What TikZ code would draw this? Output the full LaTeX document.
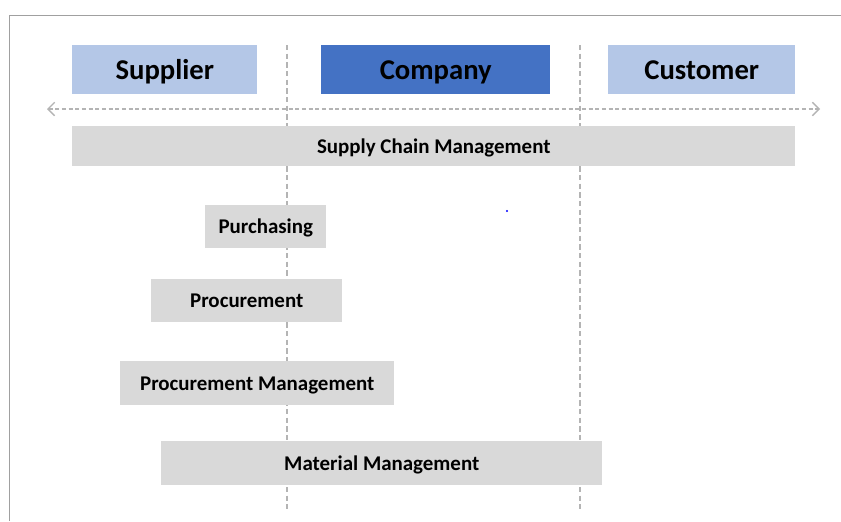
\documentclass[tikz,border=0pt]{standalone}
\usepackage{fontspec}
\setmainfont{Carlito}
\usetikzlibrary{arrows.meta}
\definecolor{lightblue}{HTML}{B4C7E7}
\definecolor{darkblue}{HTML}{4472C4}
\definecolor{bargray}{HTML}{D9D9D9}
\definecolor{linegray}{HTML}{B4B4B4}
\definecolor{framegray}{HTML}{A0A0A0}
\begin{document}
\begin{tikzpicture}[x=0.75pt,y=-0.75pt,
  hdr/.style={font=\fontsize{21.5}{24}\selectfont\bfseries, inner sep=0pt, text height=17pt, text depth=2.3pt, anchor=north west},
  bar/.style={fill=bargray, font=\fontsize{15.7}{18}\selectfont\bfseries, inner sep=0pt, text height=11.4pt, text depth=1pt, anchor=north west},
  vline/.style={draw=linegray, line width=1pt, dash pattern=on 4pt off 2.5pt},
  harrow/.style={draw=linegray, line width=1pt, dash pattern=on 3pt off 2pt, {Straight Barb[length=5pt,width=10pt]}-{Straight Barb[length=5pt,width=10pt]}}
]
\useasboundingbox (0,0) rectangle (841,521);
\fill[white] (0,0) rectangle (841,521);
% frame
\draw[framegray, line width=1.4pt] (9.5,521) -- (9.5,15.5) -- (841,15.5);
% vertical dashed lines
\coordinate (v1t) at (287,45);
\coordinate (v1b) at (287,509);
\coordinate (v2t) at (580,45);
\coordinate (v2b) at (580,509);
\draw[vline] (v1t) -- (v1b);
\draw[vline] (v2t) -- (v2b);
% horizontal arrow
\coordinate (al) at (47,109);
\coordinate (ar) at (820,109);
\draw[harrow] (al) -- (ar);
% headers
\node[hdr, fill=lightblue, minimum width=185*0.75pt, minimum height=49*0.75pt] (supplier) at (72,45) {Supplier};
\node[hdr, fill=darkblue, minimum width=229*0.75pt, minimum height=49*0.75pt] (company) at (321,45) {Company};
\node[hdr, fill=lightblue, minimum width=187*0.75pt, minimum height=49*0.75pt] (customer) at (608,45) {Customer};
% bars
\node[bar, minimum width=723*0.75pt, minimum height=40*0.75pt] (scm) at (72,126) {Supply Chain Management};
\node[bar, minimum width=121*0.75pt, minimum height=43*0.75pt] (purch) at (205,205) {Purchasing};
\node[bar, minimum width=191*0.75pt, minimum height=43*0.75pt] (proc) at (151,279) {Procurement};
\node[bar, minimum width=274*0.75pt, minimum height=44*0.75pt] (procm) at (120,361) {Procurement Management};
\node[bar, minimum width=441*0.75pt, minimum height=44*0.75pt] (matm) at (161,441) {Material Management};
% stray dot
\fill[blue] (507,211) circle (0.9pt);
\end{tikzpicture}
\end{document}
